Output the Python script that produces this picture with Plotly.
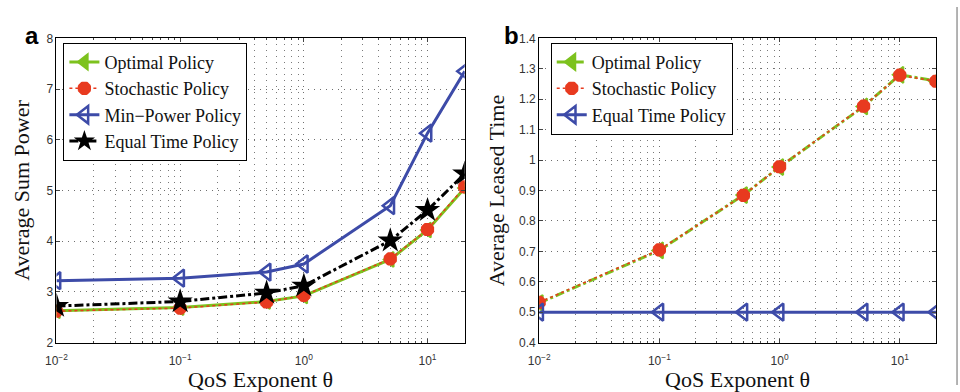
import plotly.graph_objects as go

theta = [0.01, 0.1, 0.5, 1, 5, 10, 20]

# Panel a: Average Sum Power
a_optimal = [2.63, 2.69, 2.81, 2.92, 3.64, 4.22, 5.05]
a_stochastic = [2.62, 2.68, 2.80, 2.93, 3.65, 4.23, 5.07]
a_minpower = [3.22, 3.27, 3.39, 3.55, 4.70, 6.13, 7.35]
a_equal = [2.72, 2.81, 2.98, 3.12, 4.01, 4.61, 5.33]

# Panel b: Average Leased Time
b_optimal = [0.53, 0.703, 0.885, 0.977, 1.176, 1.28, 1.26]
b_stochastic = [0.532, 0.705, 0.884, 0.978, 1.177, 1.279, 1.259]
b_equal = [0.5, 0.5, 0.5, 0.5, 0.5, 0.5, 0.5]

xtick_vals = [0.01, 0.1, 1, 10]
xtick_text = ["10<sup>−2</sup>", "10<sup>−1</sup>", "10<sup>0</sup>", "10<sup>1</sup>"]
minor_vals = [m * d for d in (0.01, 0.1, 1, 10) for m in range(2, 10) if m * d <= 20]

GREEN = "#7DC21E"
RED = "#E83A1F"
BLUE = "#3D4BA8"
BLACK = "#000000"
SERIF = "Liberation Serif, Times New Roman, serif"
SANS = "Liberation Sans, Arial, sans-serif"
GRIDDASH = "1px,5px"

fig = go.Figure()

# ---- panel a
fig.add_trace(go.Scatter(x=theta, y=a_optimal, name="Optimal Policy", mode="lines+markers",
    line=dict(color=GREEN, width=3),
    marker=dict(symbol="triangle-left", size=13, color=GREEN, line=dict(color=GREEN, width=2)),
    xaxis="x", yaxis="y", legend="legend"))
fig.add_trace(go.Scatter(x=theta, y=a_stochastic, name="Stochastic Policy", mode="lines+markers",
    line=dict(color=RED, width=1.5, dash="dot"),
    marker=dict(symbol="asterisk-open", size=11, color=RED, line=dict(color=RED, width=5)),
    xaxis="x", yaxis="y", legend="legend"))
fig.add_trace(go.Scatter(x=theta, y=a_minpower, name="Min−Power Policy", mode="lines+markers",
    line=dict(color=BLUE, width=3),
    marker=dict(symbol="triangle-left-open", size=15, color=BLUE, line=dict(color=BLUE, width=2.5)),
    xaxis="x", yaxis="y", legend="legend"))
fig.add_trace(go.Scatter(x=theta, y=a_equal, name="Equal Time Policy", mode="lines+markers",
    line=dict(color=BLACK, width=3, dash="dashdot"),
    marker=dict(symbol="star", size=19, color=BLACK),
    xaxis="x", yaxis="y", legend="legend"))

# ---- panel b
fig.add_trace(go.Scatter(x=theta, y=b_optimal, name="Optimal Policy", mode="lines+markers",
    line=dict(color=GREEN, width=3, dash="dashdot"),
    marker=dict(symbol="triangle-left", size=14, color=GREEN, line=dict(color=GREEN, width=2)),
    xaxis="x2", yaxis="y2", legend="legend2"))
fig.add_trace(go.Scatter(x=theta, y=b_stochastic, name="Stochastic Policy", mode="lines+markers",
    line=dict(color=RED, width=1.5, dash="dot"),
    marker=dict(symbol="asterisk-open", size=11, color=RED, line=dict(color=RED, width=5)),
    xaxis="x2", yaxis="y2", legend="legend2"))
fig.add_trace(go.Scatter(x=theta, y=b_equal, name="Equal Time Policy", mode="lines+markers",
    line=dict(color=BLUE, width=3),
    marker=dict(symbol="triangle-left-open", size=15, color=BLUE, line=dict(color=BLUE, width=2.5)),
    xaxis="x2", yaxis="y2", legend="legend2"))

xbase = dict(type="log", range=[-2, 1.30103], tickvals=xtick_vals, ticktext=xtick_text,
             ticks="inside", ticklen=4, showline=True, mirror="allticks", linecolor="black", linewidth=1,
             showgrid=True, gridcolor="#6f6f6f", griddash=GRIDDASH, gridwidth=1,
             minor=dict(tickvals=minor_vals, ticks="inside", ticklen=2, showgrid=True,
                        gridcolor="#7a7a7a", griddash=GRIDDASH, gridwidth=1),
             tickfont=dict(family=SANS, size=12, color="#333"), zeroline=False, ticklabelstandoff=7,
             title=dict(text="QoS Exponent θ", font=dict(family=SERIF, size=22, color="#111"), standoff=2))
ybase = dict(ticks="inside", ticklen=4, showline=True, mirror="allticks", linecolor="black", linewidth=1,
             showgrid=True, gridcolor="#6f6f6f", griddash=GRIDDASH, gridwidth=1, zeroline=False,
             tickfont=dict(family=SANS, size=12, color="#333"))

DOM_Y = [1 - 348 / 392, 1 - 32.5 / 392]

fig.update_layout(
    width=960, height=392, margin=dict(l=0, r=0, t=0, b=0),
    paper_bgcolor="white", plot_bgcolor="white",
    xaxis=dict(xbase, domain=[46 / 960, 459 / 960], anchor="y"),
    yaxis=dict(ybase, domain=DOM_Y, range=[2, 8], dtick=1, anchor="x",
               title=dict(text="Average Sum Power", font=dict(family=SERIF, size=22, color="#111"), standoff=10)),
    xaxis2=dict(xbase, domain=[534.3 / 960, 935.7 / 960], anchor="y2"),
    yaxis2=dict(ybase, domain=DOM_Y, range=[0.4, 1.4], dtick=0.1, anchor="x2",
                title=dict(text="Average Leased Time", font=dict(family=SERIF, size=22, color="#111"), standoff=8)),
    legend=dict(x=53 / 960, y=1 - 37 / 392, xanchor="left", yanchor="top",
                bgcolor="white", bordercolor="black", borderwidth=1,
                font=dict(family=SERIF, size=18, color="#111"), tracegroupgap=0, itemwidth=30),
    legend2=dict(x=546 / 960, y=1 - 37 / 392, xanchor="left", yanchor="top",
                 bgcolor="white", bordercolor="black", borderwidth=1,
                 font=dict(family=SERIF, size=18, color="#111"), tracegroupgap=0, itemwidth=30),
    annotations=[
        dict(text="<b>a</b>", x=12 / 960, y=1 - 14 / 392, xref="paper", yref="paper",
             showarrow=False, xanchor="left", yanchor="top", font=dict(family=SANS, size=24, color="black")),
        dict(text="<b>b</b>", x=497 / 960, y=1 - 14 / 392, xref="paper", yref="paper",
             showarrow=False, xanchor="left", yanchor="top", font=dict(family=SANS, size=24, color="black")),
    ],
    shapes=[dict(type="line", xref="paper", yref="paper", x0=957 / 960, x1=957 / 960, y0=0, y1=1,
                 line=dict(color="#9a9a9a", width=1.5))],
    showlegend=True,
)

fig.write_html("out.html")
